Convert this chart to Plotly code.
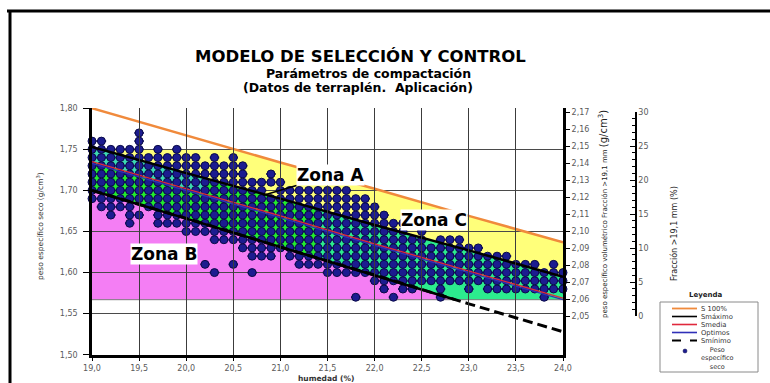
import numpy as np
import plotly.graph_objects as go

# ---------------- ejes / etiquetas ----------------
humedad_ticks = [19.0, 19.5, 20.0, 20.5, 21.0, 21.5, 22.0, 22.5, 23.0, 23.5, 24.0]
humedad_labels = ["19,0", "19,5", "20,0", "20,5", "21,0", "21,5", "22,0", "22,5", "23,0", "23,5", "24,0"]
densidad_ticks = [1.50, 1.55, 1.60, 1.65, 1.70, 1.75, 1.80]
densidad_labels = ["1,50", "1,55", "1,60", "1,65", "1,70", "1,75", "1,80"]
volumetrico_ticks = [2.05, 2.06, 2.07, 2.08, 2.09, 2.10, 2.11, 2.12, 2.13, 2.14, 2.15, 2.16, 2.17]
volumetrico_labels = ["2,05", "2,06", "2,07", "2,08", "2,09", "2,10", "2,11", "2,12", "2,13", "2,14", "2,15", "2,16", "2,17"]
fraccion_ticks = [0, 5, 10, 15, 20, 25, 30]
fraccion_labels = ["0", "5", "10", "15", "20", "25", "30"]

# ---------------- curvas ----------------
curva_x = [19.0, 20.0, 21.0, 22.0, 23.0, 24.0]
s100 = [1.800, 1.767, 1.734, 1.702, 1.669, 1.637]
smaximo = [1.753, 1.721, 1.690, 1.658, 1.627, 1.595]
smedia = [1.735, 1.702, 1.669, 1.635, 1.602, 1.569]
optimos = [1.733, 1.700, 1.667, 1.633, 1.600, 1.567]
sminimo = [1.700, 1.666, 1.631, 1.597, 1.562, 1.528]
zona_base = 1.567
zona_techo = 1.75

# ---------------- puntos: peso especifico seco por fila ----------------
densidades = [1.77, 1.76, 1.75, 1.74, 1.73, 1.72, 1.71, 1.70, 1.69, 1.68, 1.67,
              1.66, 1.65, 1.64, 1.63, 1.62, 1.61, 1.60, 1.59, 1.58, 1.57]
fila_177 = [19.5]
fila_176 = [19.0, 19.1, 19.5]
fila_175 = [19.0, 19.1, 19.2, 19.3, 19.4, 19.5, 19.7, 19.9]
fila_174 = [19.0, 19.1, 19.2, 19.3, 19.4, 19.5, 19.6, 19.7, 19.8, 19.9, 20.0, 20.1, 20.3, 20.5]
fila_173 = [19.0, 19.1, 19.2, 19.3, 19.4, 19.5, 19.6, 19.7, 19.8, 19.9, 20.0, 20.1, 20.2, 20.3,
            20.4, 20.5, 20.6]
fila_172 = [19.0, 19.1, 19.2, 19.3, 19.4, 19.5, 19.6, 19.7, 19.8, 19.9, 20.0, 20.1, 20.2, 20.3,
            20.4, 20.5, 20.6, 20.9]
fila_171 = [19.0, 19.1, 19.2, 19.3, 19.4, 19.5, 19.6, 19.7, 19.8, 19.9, 20.0, 20.1, 20.2, 20.3,
            20.4, 20.5, 20.6, 20.7, 20.8, 20.9, 21.0]
fila_170 = [19.0, 19.1, 19.2, 19.3, 19.4, 19.5, 19.6, 19.7, 19.8, 19.9, 20.0, 20.1, 20.2, 20.3,
            20.4, 20.5, 20.6, 20.7, 20.8, 21.0, 21.1, 21.2, 21.3, 21.4, 21.5, 21.6, 21.7]
fila_169 = [19.0, 19.1, 19.2, 19.3, 19.4, 19.5, 19.6, 19.7, 19.8, 19.9, 20.0, 20.1, 20.2, 20.3,
            20.4, 20.5, 20.6, 20.7, 20.8, 20.9, 21.0, 21.1, 21.2, 21.3, 21.4, 21.5, 21.6, 21.7,
            21.8, 21.9]
fila_168 = [19.1, 19.2, 19.3, 19.4, 19.6, 19.7, 19.8, 19.9, 20.0, 20.1, 20.2, 20.3, 20.4, 20.5,
            20.6, 20.7, 20.8, 20.9, 21.0, 21.1, 21.2, 21.3, 21.4, 21.5, 21.6, 21.7, 21.8, 21.9,
            22.0]
fila_167 = [19.2, 19.4, 19.5, 19.7, 19.8, 19.9, 20.0, 20.1, 20.2, 20.3, 20.4, 20.5, 20.6, 20.7,
            20.8, 20.9, 21.0, 21.1, 21.2, 21.3, 21.4, 21.5, 21.6, 21.7, 21.8, 21.9, 22.0, 22.1]
fila_166 = [19.4, 19.7, 19.8, 19.9, 20.0, 20.1, 20.2, 20.3, 20.4, 20.5, 20.6, 20.7, 20.8, 20.9,
            21.0, 21.1, 21.2, 21.3, 21.4, 21.5, 21.6, 21.7, 21.8, 21.9, 22.0, 22.1, 22.2, 22.3]
fila_165 = [20.0, 20.1, 20.2, 20.3, 20.4, 20.5, 20.6, 20.7, 20.8, 20.9, 21.0, 21.1, 21.2, 21.3,
            21.4, 21.5, 21.6, 21.7, 21.8, 21.9, 22.0, 22.1, 22.2, 22.3, 22.5]
fila_164 = [20.3, 20.4, 20.5, 20.6, 20.7, 20.8, 20.9, 21.0, 21.1, 21.2, 21.3, 21.4, 21.5, 21.6,
            21.7, 21.8, 21.9, 22.0, 22.1, 22.2, 22.3, 22.4, 22.5, 22.7, 22.8, 22.9]
fila_163 = [20.6, 20.7, 20.8, 20.9, 21.0, 21.1, 21.2, 21.3, 21.4, 21.5, 21.6, 21.7, 21.8, 21.9,
            22.0, 22.1, 22.2, 22.3, 22.4, 22.5, 22.6, 22.7, 22.8, 22.9, 23.0, 23.1]
fila_162 = [20.7, 20.8, 20.9, 21.1, 21.2, 21.3, 21.4, 21.5, 21.6, 21.7, 21.8, 21.9, 22.0, 22.1,
            22.2, 22.3, 22.4, 22.5, 22.6, 22.7, 22.8, 22.9, 23.0, 23.1, 23.2, 23.3, 23.4]
fila_161 = [20.2, 20.5, 21.2, 21.3, 21.4, 21.5, 21.6, 21.7, 21.8, 21.9, 22.0, 22.1, 22.2, 22.3,
            22.4, 22.5, 22.6, 22.7, 22.8, 22.9, 23.0, 23.1, 23.2, 23.3, 23.4, 23.5, 23.6, 23.7,
            23.9]
fila_160 = [20.3, 20.7, 21.5, 21.6, 21.7, 21.8, 21.9, 22.0, 22.1, 22.2, 22.3, 22.4, 22.5, 22.6,
            22.7, 22.8, 22.9, 23.0, 23.1, 23.2, 23.3, 23.4, 23.5, 23.6, 23.7, 23.8, 23.9, 24.0]
fila_159 = [22.0, 22.1, 22.2, 22.3, 22.4, 22.5, 22.6, 22.7, 22.8, 22.9, 23.0, 23.1, 23.2, 23.3,
            23.4, 23.5, 23.6, 23.7, 23.8, 23.9, 24.0]
fila_158 = [22.1, 22.3, 22.4, 22.7, 23.0, 23.2, 23.3, 23.4, 23.5, 23.6, 23.7, 23.8, 23.9, 24.0]
fila_157 = [21.8, 22.2, 22.7, 23.8]

filas = [fila_177, fila_176, fila_175, fila_174, fila_173, fila_172, fila_171, fila_170,
         fila_169, fila_168, fila_167, fila_166, fila_165, fila_164, fila_163, fila_162,
         fila_161, fila_160, fila_159, fila_158, fila_157]

pts_x, pts_y = [], []
for d, fila in zip(densidades, filas):
    pts_x += fila
    pts_y += [d] * len(fila)

# ---------------- pixel helpers (layout) ----------------
W, H = 770, 383
ML, MR, MT, MB = 92, 70, 108, 28
PW, PH = W - ML - MR, H - MT - MB
PLOT_RIGHT = 563


def px(x):
    return (x - ML) / PW


def py(y):
    return (H - MB - y) / PH


# ---------------- zonas ----------------
xs = np.round(np.arange(19.0, 24.0001, 0.02), 4)


def f(arr):
    return np.interp(xs, curva_x, arr)


def area_path(x, top, bottom):
    a = [f"{u:.4f},{v:.5f}" for u, v in zip(x, top)]
    b = [f"{u:.4f},{v:.5f}" for u, v in zip(x[::-1], bottom[::-1])]
    return "M " + " L ".join(a + b) + " Z"


x_cruce = float(np.interp(zona_base, sminimo[::-1], curva_x[::-1]))

shapes = []
# amarilla (zona C)
top_am = np.minimum(zona_techo, f(s100))
bot_am = f(smaximo)
m = top_am > bot_am
shapes.append(dict(type="path", xref="x", yref="y", layer="below",
                   path=area_path(xs[m], top_am[m], bot_am[m]),
                   fillcolor="#FFFF7A", line=dict(width=0)))
# rosa (zona B)
m = xs <= x_cruce + 1e-9
shapes.append(dict(type="path", xref="x", yref="y", layer="below",
                   path=area_path(np.append(xs[m], x_cruce),
                                  np.append(f(sminimo)[m], zona_base),
                                  np.full(m.sum() + 1, zona_base)),
                   fillcolor="#F47EF4", line=dict(width=0)))
# verde (zona A)
bot_v = np.maximum(f(sminimo), zona_base)
top_v = f(smaximo)
m = xs <= 21.4
shapes.append(dict(type="path", xref="x", yref="y", layer="below",
                   path=area_path(xs[m], top_v[m], bot_v[m]),
                   fillcolor="#22EA2E", line=dict(width=0)))
m = xs >= 21.4
shapes.append(dict(type="path", xref="x", yref="y", layer="below",
                   path=area_path(xs[m], top_v[m], bot_v[m]),
                   fillcolor="#2CEC8E", line=dict(width=0)))
m = xs <= 20.2
shapes.append(dict(type="path", xref="x", yref="y", layer="below",
                   path=area_path(xs[m], top_v[m], f(smedia)[m]),
                   fillcolor="#3CD9B2", line=dict(width=0)))
# linea base gris de las zonas
shapes.append(dict(type="line", xref="x", yref="y", layer="below",
                   x0=19.0, x1=24.0, y0=zona_base, y1=zona_base,
                   line=dict(color="#7a7a7a", width=1)))

# marco
shapes.append(dict(type="line", xref="paper", yref="paper", x0=px(7), x1=px(770),
                   y0=py(11), y1=py(11), line=dict(color="black", width=3)))
shapes.append(dict(type="line", xref="paper", yref="paper", x0=px(10), x1=px(10),
                   y0=py(11), y1=py(383), line=dict(color="black", width=3)))

# ---------------- trazas ----------------
fig = go.Figure()
fig.add_trace(go.Scatter(x=pts_x, y=pts_y, mode="markers", cliponaxis=False,
                         marker=dict(size=8, color="#1C1C90", line=dict(color="#0A0A48", width=1)),
                         error_x=dict(type="constant", value=0.05, thickness=2, width=0,
                                      color="#101060"),
                         name="Peso específico seco"))
fig.add_trace(go.Scatter(x=curva_x, y=s100, mode="lines", line=dict(color="#F08A3C", width=2.5),
                         name="S 100%"))
fig.add_trace(go.Scatter(x=curva_x, y=optimos, mode="lines", line=dict(color="#3030B8", width=1.3),
                         name="Optimos"))
fig.add_trace(go.Scatter(x=curva_x, y=smedia, mode="lines", line=dict(color="#E0283C", width=1.3),
                         name="Smedia"))
fig.add_trace(go.Scatter(x=curva_x, y=smaximo, mode="lines", line=dict(color="black", width=2.5),
                         name="Smáximo"))
fig.add_trace(go.Scatter(x=curva_x, y=sminimo, mode="lines",
                         line=dict(color="black", width=3, dash="10px,5px"), name="Smínimo"))
xb = np.append(xs[xs <= x_cruce], x_cruce)
fig.add_trace(go.Scatter(x=xb, y=np.interp(xb, curva_x, sminimo), mode="lines",
                         line=dict(color="black", width=2.5), name="borde", hoverinfo="skip"))
# ejes secundarios
fig.add_trace(go.Scatter(x=[None], y=[None], yaxis="y2", mode="markers", hoverinfo="skip"))
fig.add_trace(go.Scatter(x=[None], y=[None], yaxis="y3", mode="markers", hoverinfo="skip"))

tickfont = dict(family="DejaVu Sans", size=8, color="#5a5a5a")

# rango eje volumetrico: 2.05 en y=316 px, 2.17 en y=112 px
v_per_px = 0.12 / (316 - 112)
v_lo = 2.05 - (H - MB - 316) * v_per_px
v_hi = 2.17 + (112 - MT) * v_per_px

fig.update_layout(
    width=W, height=H,
    margin=dict(l=ML, r=MR, t=MT, b=MB, autoexpand=False),
    paper_bgcolor="white", plot_bgcolor="rgba(0,0,0,0)",
    showlegend=False,
    shapes=shapes,
    xaxis=dict(domain=[0, (PLOT_RIGHT - ML) / PW], range=[19.0, 24.0],
               tickvals=humedad_ticks, ticktext=humedad_labels, tickfont=tickfont,
               showgrid=True, gridcolor="#3c3c3c", gridwidth=1,
               showline=True, linecolor="black", linewidth=3,
               ticks="outside", ticklen=3, tickcolor="black",
               zeroline=False, automargin=False),
    yaxis=dict(range=[1.4997, 1.8003], tickvals=densidad_ticks, ticktext=densidad_labels,
               tickfont=tickfont, showgrid=True, gridcolor="#4a4a4a", gridwidth=1,
               showline=True, linecolor="black", linewidth=2.5,
               ticks="outside", ticklen=6, tickcolor="black", ticklabelstandoff=4,
               zeroline=False, automargin=False),
    yaxis2=dict(overlaying="y", side="right", anchor="x", range=[v_lo, v_hi],
                tickvals=volumetrico_ticks, ticktext=volumetrico_labels, tickfont=tickfont,
                showgrid=False, showline=True, linecolor="black", linewidth=3,
                ticks="outside", ticklen=4, tickcolor="black", zeroline=False,
                automargin=False),
    yaxis3=dict(anchor="free", position=px(636), side="right",
                domain=[py(316), py(112)], range=[0, 30],
                tickvals=fraccion_ticks, ticktext=fraccion_labels, tickfont=tickfont,
                showgrid=False, showline=True, linecolor="black", linewidth=1.5,
                ticks="inside", ticklen=5, tickcolor="black",
                minor=dict(ticks="inside", ticklen=3, dtick=1, tickcolor="black"),
                zeroline=False, automargin=False),
)


def note(text, x, y, size, angle=0, color="#222", xanchor="center", family="DejaVu Sans"):
    return dict(text=text, x=px(x), y=py(y), xref="paper", yref="paper", showarrow=False,
                xanchor=xanchor, yanchor="middle", textangle=angle,
                font=dict(family=family, size=size, color=color))


ann = []
# titulos
ann.append(note("<b>MODELO DE SELECCIÓN Y CONTROL</b>", 360, 56, 16.5, color="black"))
ann.append(note("<b>Parámetros de compactación</b>", 368, 73.5, 12.5, color="black"))
ann.append(note("<b>(Datos de terraplén.  Aplicación)</b>", 358, 88, 12.5, color="black"))
# titulos de ejes
ann.append(note("<b>humedad (%)</b>", 326, 378, 7.5, color="#333"))
ann.append(note("peso específico seco (g/cm<sup>3</sup>)", 40, 226, 7.5, angle=-90, color="#333"))
ann.append(note("peso específico volumétrico Fracción >19,1 mm "
                "<span style='font-size:10px'>(g/cm<sup>3</sup>)</span>",
                603, 214, 7, angle=-90))
ann.append(note("Fracción >19,1 mm (%)", 674, 234, 8, angle=-90))
# zonas
zfont = dict(family="DejaVu Sans", size=17, color="black")
ann.append(dict(text="<b>Zona A</b>", x=20.82, y=1.694, ax=67, ay=-20, xref="x", yref="y",
                showarrow=True, arrowhead=0, arrowwidth=1.6, arrowcolor="black",
                bgcolor="white", borderpad=0, font=zfont))
ann.append(dict(text="<b>Zona B</b>", x=19.76, y=1.623, xref="x", yref="y", showarrow=False,
                bgcolor="white", borderpad=0, font=zfont))
ann.append(dict(text="<b>Zona C</b>", x=22.63, y=1.664, xref="x", yref="y", showarrow=False,
                bgcolor="white", borderpad=0, font=zfont))

# leyenda manual
lx0, lx1, ly0, ly1 = 660, 758, 302, 372
fig.add_shape(type="rect", xref="paper", yref="paper", x0=px(lx0), x1=px(lx1),
              y0=py(ly1), y1=py(ly0), line=dict(color="#8a8a8a", width=1), fillcolor="white")
ann.append(note("<b>Leyenda</b>", 706, 295, 7, color="#222"))
items = [("S 100%", "#F08A3C", "solid", 1.8), ("Smáximo", "black", "solid", 1.6),
         ("Smedia", "#E0283C", "solid", 1.6), ("Optimos", "#3030B8", "solid", 1.6),
         ("Smínimo", "black", "dash", 1.8)]
for i, (lab, col, dsh, lw) in enumerate(items):
    yy = 308.5 + i * 8
    fig.add_shape(type="line", xref="paper", yref="paper", x0=px(672), x1=px(697),
                  y0=py(yy), y1=py(yy), line=dict(color=col, width=lw, dash=dsh))
    ann.append(note(lab, 699, yy, 6.8, color="#333", xanchor="left"))
fig.add_shape(type="circle", xref="paper", yref="paper", x0=px(683), x1=px(687),
              y0=py(353), y1=py(349), fillcolor="#1C1C90", line=dict(color="#0A0A48", width=0.5))
ann.append(note("Peso<br>específico<br>seco", 699, 358.5, 6.5, color="#333", xanchor="left"))

fig.update_layout(annotations=ann)
fig.write_html("out.html", config={"displayModeBar": False},
               post_script="document.body.style.margin='0';document.body.style.padding='0';")
